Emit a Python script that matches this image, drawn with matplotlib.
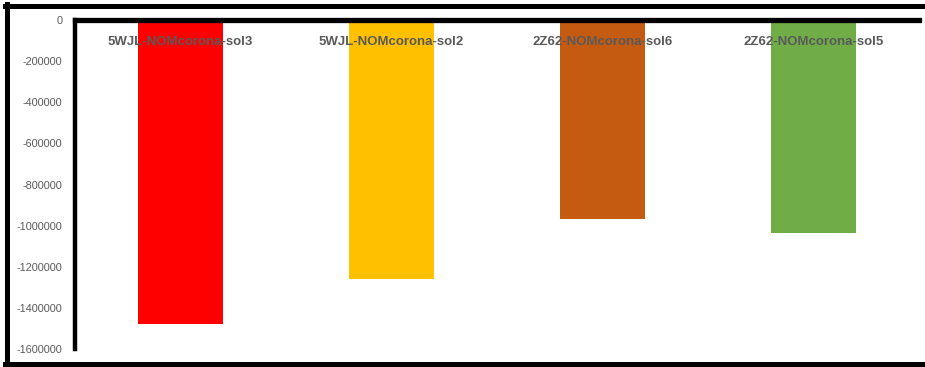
import matplotlib.pyplot as plt
import matplotlib.transforms as mtransforms
from matplotlib.lines import Line2D

# dane
categories = ["5WJL-NOMcorona-sol3", "5WJL-NOMcorona-sol2",
              "2Z62-NOMcorona-sol6", "2Z62-NOMcorona-sol5"]
values = [-1480000, -1260000, -968000, -1036000]
colors = ["#FF0000", "#FFC000", "#C55A11", "#70AD47"]
yticks = [0, -200000, -400000, -600000, -800000, -1000000,
          -1200000, -1400000, -1600000]

W, H = 925, 367
fig = plt.figure(figsize=(W / 100, H / 100), dpi=100)
ax = fig.add_axes([75 / W, 1 - 349 / H, (919 - 75) / W, (349 - 20) / H])

ax.bar(range(len(categories)), values, width=0.4, color=colors)
ax.set_xlim(-0.5, len(categories) - 0.5)
ax.set_ylim(-1600000, 0)

ax.set_yticks(yticks)
ax.set_yticklabels([str(v) for v in yticks], fontsize=7.8,
                   family="Liberation Sans", color="#595959")
ax.tick_params(axis="y", length=0, pad=9)
ax.set_xticks([])

for side in ["right", "bottom"]:
    ax.spines[side].set_visible(False)
ax.spines["left"].set_linewidth(3.2)
ax.spines["top"].set_linewidth(3.8)

# etykiety kategorii nad słupkami
trans = mtransforms.blended_transform_factory(ax.transData, ax.transAxes)
for i, name in enumerate(categories):
    ax.text(i, 0.933, name, transform=trans, ha="center", va="center",
            fontsize=9.5, fontweight="bold", family="Liberation Sans",
            color="#595959")

# ramka wokół całego obrazu (bez prawej krawędzi)
lw = 3.6
fig.add_artist(Line2D([5 / W, 1], [1 - 6 / H, 1 - 6 / H], color="black", lw=lw))
fig.add_artist(Line2D([7 / W, 7 / W], [1 - 4 / H, 1 - 364 / H], color="black", lw=lw))
fig.add_artist(Line2D([5 / W, 1], [1 - 364 / H, 1 - 364 / H], color="black", lw=lw))

fig.savefig("out.png", dpi=100)
